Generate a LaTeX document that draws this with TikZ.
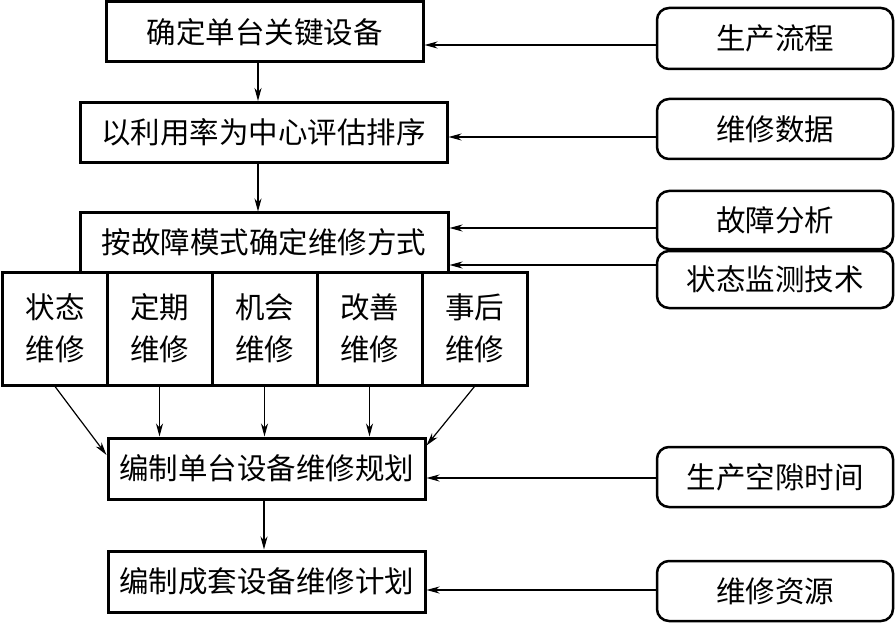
\documentclass[tikz,border=0pt]{standalone}
\usepackage{fontspec}
\newfontfamily\cjk{Noto Sans CJK SC}
\usetikzlibrary{arrows.meta}
\begin{document}
\begin{tikzpicture}[x=1pt,y=-1pt,
  every node/.style={font=\cjk\fontsize{29.5}{42}\selectfont, inner sep=0pt, align=center},
  mainbox/.style={draw, line width=3pt, minimum height=60pt},
  modebox/.style={draw, line width=3pt, minimum width=105pt, minimum height=113pt},
  sidebox/.style={draw, line width=2.5pt, rounded corners=12pt, minimum width=236pt, minimum height=59pt},
  arr/.style={line width=1.2pt, -{Stealth[length=13pt,width=7pt,inset=4pt]}}]
\useasboundingbox (0,0) rectangle (895,623);
% main column
\node[mainbox, minimum width=317pt] (B1) at (264.5,32) {确定单台关键设备};
\node[mainbox, minimum width=367pt] (B2) at (263.5,132.5) {以利用率为中心评估排序};
\node[mainbox, minimum width=368pt, minimum height=59pt] (B3) at (264,242.5) {按故障模式确定维修方式};
\node[modebox] (M1) at (55,328.5) {状态\\维修};
\node[modebox] (M2) at (159.5,328.5) {定期\\维修};
\node[modebox] (M3) at (264.5,328.5) {机会\\维修};
\node[modebox] (M4) at (369.5,328.5) {改善\\维修};
\node[modebox] (M5) at (474.5,328.5) {事后\\维修};
\node[mainbox, minimum width=317pt, minimum height=61pt] (B5) at (266.5,468.5) {编制单台设备维修规划};
\node[mainbox, minimum width=317pt, minimum height=61pt] (B6) at (266.5,581.5) {编制成套设备维修计划};
% side boxes
\node[sidebox, minimum height=61pt] (R1) at (775,38.5) {生产流程};
\node[sidebox, minimum height=60pt] (R2) at (775,129) {维修数据};
\node[sidebox, minimum height=58pt] (R3) at (775,220) {故障分析};
\node[sidebox, minimum height=57pt] (R4) at (775,279.5) {状态监测技术};
\node[sidebox, minimum height=60pt] (R5) at (775,477) {生产空隙时间};
\node[sidebox, minimum height=60pt] (R6) at (775,591) {维修资源};
% levels of side arrows
\coordinate (h1) at (600,45);
\coordinate (h2) at (600,137);
\coordinate (h3) at (600,228);
\coordinate (h4) at (600,265);
\coordinate (h5) at (600,478);
\coordinate (h6) at (600,590);
\coordinate (v1) at (258,0);
\coordinate (v2) at (264,0);
\draw[arr] (R1.west |- h1) -- (B1.east |- h1);
\draw[arr] (R2.west |- h2) -- (B2.east |- h2);
\draw[arr] (R3.west |- h3) -- (B3.east |- h3);
\draw[arr] (R4.west |- h4) -- (B3.east |- h4);
\draw[arr] (R5.west |- h5) -- (B5.east |- h5);
\draw[arr] (R6.west |- h6) -- (B6.east |- h6);
% vertical arrows
\draw[arr] (B1.south -| v1) -- (B2.north -| v1);
\draw[arr] (B2.south -| v1) -- (B3.north -| v1);
\draw[arr] (B5.south -| v2) -- (B6.north -| v2);
% mode arrows
\draw[arr] (M1.south) -- ([yshift=13.5pt]B5.west);
\draw[arr] (M2.south) -- (M2.south |- B5.north);
\draw[arr] (M3.south) -- (M3.south |- B5.north);
\draw[arr] (M4.south) -- (M4.south |- B5.north);
\draw[arr] (M5.south) -- ([yshift=-9pt]B5.north east);
\end{tikzpicture}
\end{document}
